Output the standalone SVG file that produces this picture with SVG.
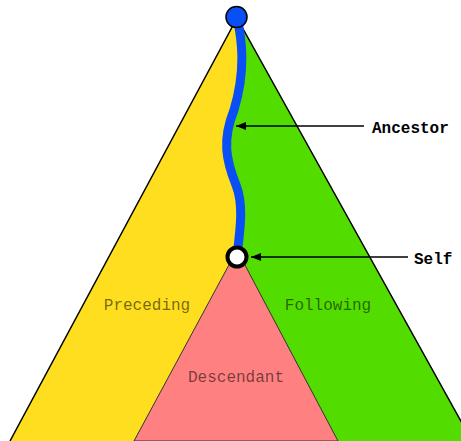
<svg xmlns="http://www.w3.org/2000/svg" width="461" height="441" viewBox="0 0 461 441">
<defs>
<style>
.region{stroke:none}
.edge{fill:none;stroke:#000;stroke-width:1.5}
.lbl{font-family:"Liberation Mono","Courier New",monospace;font-size:16px;fill:#000;fill-opacity:0.55;text-anchor:middle}
.tag{font-family:"Liberation Mono","Courier New",monospace;font-size:16px;font-weight:bold;fill:#000}
.conn{stroke:#000;stroke-width:1.3;fill:none;marker-end:url(#ah)}
</style>
<marker id="ah" viewBox="0 0 10 8" refX="10" refY="4" markerWidth="10" markerHeight="8" markerUnits="userSpaceOnUse" orient="auto">
<path d="M0,0 L10,4 L0,8 Z" fill="#000"/>
</marker>
</defs>
<rect width="461" height="441" fill="#fff"/>
<g id="following">
<path class="region" d="M237,18 L472,441 L10,441 Z" fill="#52dc00"/>
<text class="lbl" x="328" y="310">Following</text>
</g>
<g id="preceding">
<path class="region" d="M237,18 L10,441 L134,441 L237,256 C240,230 244,205 236,185 C226,160 222,140 234,110 C246,70 242,40 237,18 Z" fill="#fede1e"/>
<text class="lbl" x="147" y="310">Preceding</text>
</g>
<g id="descendant">
<path d="M237,250 L134,441 L338,441 Z" fill="#ff8080" stroke="#333" stroke-width="1"/>
<text class="lbl" x="236" y="382">Descendant</text>
</g>
<path class="edge" d="M10,441 L237,18 L472,441"/>
<g id="ancestor">
<path d="M237,17 C242,40 246,70 234,110 C222,140 226,160 236,185 C244,205 240,230 237,256" fill="none" stroke="#0a4ff6" stroke-width="9" stroke-linecap="round"/>
<circle cx="236.5" cy="17" r="10.5" fill="#0a4ff6" stroke="#000" stroke-width="1.5"/>
<text class="tag" x="372" y="133">Ancestor</text>
</g>
<g id="self">
<circle cx="237" cy="257" r="9.5" fill="#fff" stroke="#000" stroke-width="4"/>
<text class="tag" x="414" y="264">Self</text>
</g>
<g id="connectors">
<line class="conn" x1="364" y1="126" x2="236" y2="126"/>
<line class="conn" x1="408" y1="257" x2="251" y2="257"/>
</g>
</svg>
